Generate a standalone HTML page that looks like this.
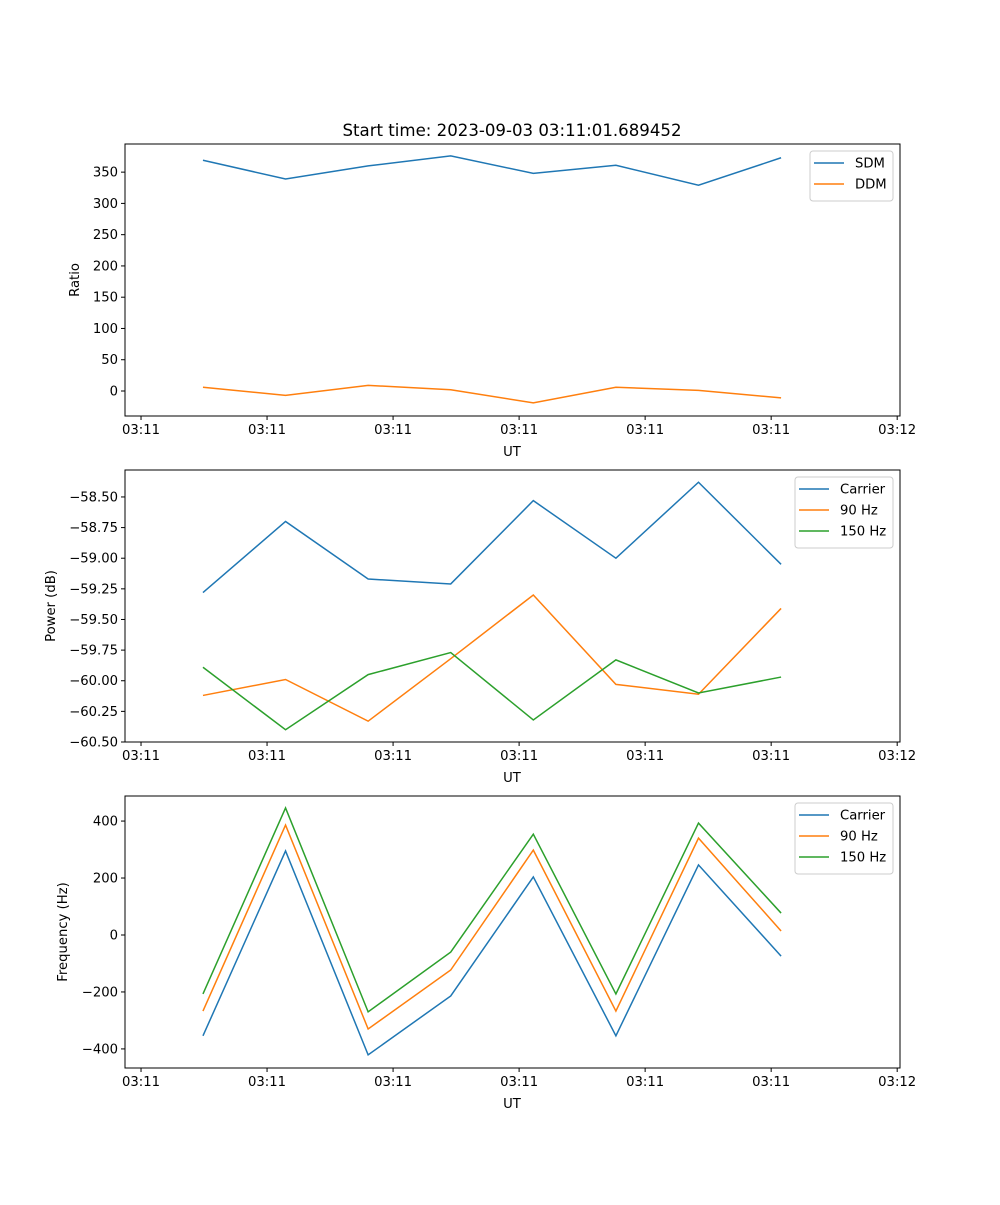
<!DOCTYPE html>
<html><head><meta charset="utf-8"><style>
body{margin:0;background:#fff;}
svg{font-family:"DejaVu Sans","Liberation Sans",sans-serif;}
</style></head><body>
<svg id="fig" width="1000" height="1200" xmlns="http://www.w3.org/2000/svg">
<text x="512" y="136" font-size="16.6" text-anchor="middle">Start time: 2023-09-03 03:11:01.689452</text>
</svg>
<script>
const xTickLabels = ["03:11","03:11","03:11","03:11","03:11","03:11","03:12"];
const sdm = [369,339,360,376,348,361,329,373];
const ddm = [6,-7,9,2,-19,6,1,-11];
const pwrCarrier = [-59.28,-58.70,-59.17,-59.21,-58.53,-59.0,-58.38,-59.05];
const pwr90 = [-60.12,-59.99,-60.33,-59.82,-59.30,-60.03,-60.11,-59.41];
const pwr150 = [-59.89,-60.40,-59.95,-59.77,-60.32,-59.83,-60.10,-59.97];
const frqCarrier = [-354,295,-421,-214,204,-354,246,-74];
const frq90 = [-267,386,-330,-123,298,-267,340,14];
const frq150 = [-207,446,-270,-60,354,-207,393,77];
const ticks1 = [0,50,100,150,200,250,300,350];
const ticks2 = [-60.5,-60.25,-60.0,-59.75,-59.5,-59.25,-59.0,-58.75,-58.5];
const ticks3 = [-400,-200,0,200,400];

const NS="http://www.w3.org/2000/svg";
const svg=document.getElementById('fig');
const L=125,R=900;
const X0=-0.944,X1=8.44;
const xs=i=>L+(i-X0)/(X1-X0)*(R-L);
function el(t,a,p){const e=document.createElementNS(NS,t);for(const k in a)e.setAttribute(k,a[k]);(p||svg).appendChild(e);return e;}
const C={blue:'#1f77b4',orange:'#ff7f0e',green:'#2ca02c'};
const FS=13.2;

function panel(name,top,bot,y0,y1,yt,fmt,ylabel,series,legX,legW){
  const g=el('g',{});
  
  
  const ys=v=>bot-(v-y0)/(y1-y0)*(bot-top);
  series.forEach(s=>{
    const p=el('polyline',{points:s.data.map((v,i)=>xs(i)+','+ys(v)).join(' '),fill:'none',stroke:s.c,'stroke-width':1.5},g);
    
    
  });
  const fr=el('rect',{x:L,y:top,width:R-L,height:bot-top,fill:'none',stroke:'#000','stroke-width':1},g);
  
  
  yt.forEach(v=>{
    const y=ys(v);
    el('line',{x1:L-4,x2:L,y1:y,y2:y,stroke:'#000'},g);
    const t=el('text',{x:L-7,y:y+4.5,'font-size':FS,'text-anchor':'end'},g);
    t.textContent=fmt(v);
    
    
  });
  xTickLabels.forEach((lab,k)=>{
    const x=xs(-0.75+k*1.526);
    el('line',{x1:x,x2:x,y1:bot,y2:bot+4,stroke:'#000'},g);
    const t=el('text',{x:x,y:bot+18,'font-size':FS,'text-anchor':'middle'},g);
    t.textContent=lab;
    
    
  });
  const xl=el('text',{x:512,y:bot+40,'font-size':FS,'text-anchor':'middle'},g);
  xl.textContent='UT';
  
  
  const cy=(top+bot)/2;
  const yl=el('text',{x:0,y:0,'font-size':FS,'text-anchor':'middle',transform:`translate(${ylabel.x},${cy}) rotate(-90)`},g);
  yl.textContent=ylabel.t;
  
  
  const lg=el('g',{},g);
  
  
  const h=8+series.length*21;
  el('rect',{x:legX,y:top+7,width:legW,height:h,rx:3,fill:'#fff',stroke:'#ccc'},lg);
  series.forEach((s,i)=>{
    const y=top+19+i*21;
    el('line',{x1:legX+4,x2:legX+34,y1:y,y2:y,stroke:s.c,'stroke-width':1.5},lg);
    const t=el('text',{x:legX+45,y:y+4.5,'font-size':FS},lg);
    t.textContent=s.label;
    
    
  });
}
panel('ratio',144,416,-40,395,ticks1,v=>String(v),{x:79,t:'Ratio'},
  [{id:'sdm',label:'SDM',data:sdm,c:C.blue},{id:'ddm',label:'DDM',data:ddm,c:C.orange}],810,83);
panel('power',470,742,-60.5,-58.28,ticks2,v=>'\u2212'+Math.abs(v).toFixed(2),{x:55,t:'Power (dB)'},
  [{id:'carrier',label:'Carrier',data:pwrCarrier,c:C.blue},{id:'90hz',label:'90 Hz',data:pwr90,c:C.orange},{id:'150hz',label:'150 Hz',data:pwr150,c:C.green}],795,98);
panel('frequency',796,1068,-467,488,ticks3,v=>(v<0?'\u2212':'')+Math.abs(v),{x:67,t:'Frequency (Hz)'},
  [{id:'carrier',label:'Carrier',data:frqCarrier,c:C.blue},{id:'90hz',label:'90 Hz',data:frq90,c:C.orange},{id:'150hz',label:'150 Hz',data:frq150,c:C.green}],795,98);
</script>
</body></html>
